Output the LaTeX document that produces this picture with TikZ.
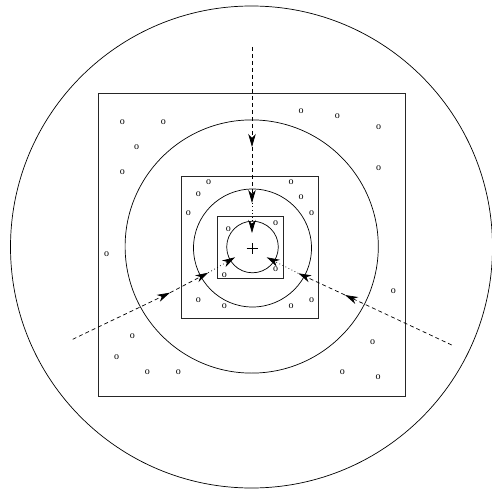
\documentclass[tikz,border=0pt]{standalone}
\usepackage{fontspec}
\setmainfont{Liberation Serif}
\usetikzlibrary{arrows.meta}
\begin{document}
\begin{tikzpicture}[x=1pt,y=-1pt,
  ring/.style={draw=black, line width=0.7pt},
  box/.style={draw=black!85, line width=0.9pt},
  omark/.style={font=\fontsize{10}{10}\selectfont, inner sep=0pt},
  tipstyle/.style={-{Stealth[length=13pt,width=7.5pt,inset=4pt]}},
  flowdash/.style={tipstyle, line width=0.7pt, dash pattern=on 4pt off 3pt},
  flowdot/.style={tipstyle, line width=0.7pt, dash pattern=on 0.8pt off 2.6pt}
]
\useasboundingbox (0,0) rectangle (492,489);

% circles
\draw[ring] (251.5,247) circle[radius=241];
\draw[ring] (251.7,246.5) circle[radius=126.6];
\draw[ring] (252.5,248) circle[radius=59];
\draw[ring] (252.5,247) circle[radius=25.8];

% squares
\draw[box] (98,93) rectangle (405.5,396);
\draw[box] (181,176) rectangle (318.5,318.5);
\draw[box] (217,216) rectangle (283,278);

% plus
\coordinate (cen) at (252,248);
\draw[line width=0.75pt] ([xshift=-5.5pt]cen) -- ([xshift=5.5pt]cen);
\draw[line width=0.75pt] ([yshift=-5.5pt]cen) -- ([yshift=5.5pt]cen);

% arrow paths
\coordinate (v0) at (252,47);
\coordinate (v1) at (252,147);
\coordinate (v2) at (252,203);
\coordinate (v3) at (252,233);
\coordinate (l0) at (72.7,339.3);
\coordinate (l1) at (170,292.7);
\coordinate (l2) at (208.3,272.7);
\coordinate (l3) at (235,257.3);
\coordinate (r0) at (451.7,345);
\coordinate (r1) at (345,295);
\coordinate (r2) at (298.3,273.3);
\coordinate (r3) at (266.7,257.3);

\draw[flowdash] (v0) -- (v1);
\draw[flowdash] (v1) -- (v2);
\draw[flowdot] (v2) -- (v3);
\draw[flowdash] (l0) -- (l1);
\draw[flowdash] (l1) -- (l2);
\draw[flowdot] (l2) -- (l3);
\draw[flowdash] (r0) -- (r1);
\draw[flowdash] (r1) -- (r2);
\draw[flowdot] (r2) -- (r3);

% marks
\foreach \x/\y [count=\i] in {
  122.3/121.7, 163.3/121.7, 136.7/146.7, 122.3/172.3,
  301/111, 337.3/116, 378.7/126.7, 378.7/167.7,
  106.7/254.3, 393.3/290.7,
  132.3/336.3, 116.7/356.7, 147.3/371.7, 178.3/371.7,
  372.7/341.7, 342.3/371.7, 378/377.3,
  208.5/182.5, 291/182.5, 198.3/194, 301.2/197.3, 188.3/213.3, 311.7/213.3,
  228.3/229, 275.7/223.3, 275.7/269.5, 224.3/275,
  198.3/300.3, 224.3/306, 291/306, 311.7/300.5}
  \node[omark] (o\i) at (\x,\y) {o};
\end{tikzpicture}
\end{document}
